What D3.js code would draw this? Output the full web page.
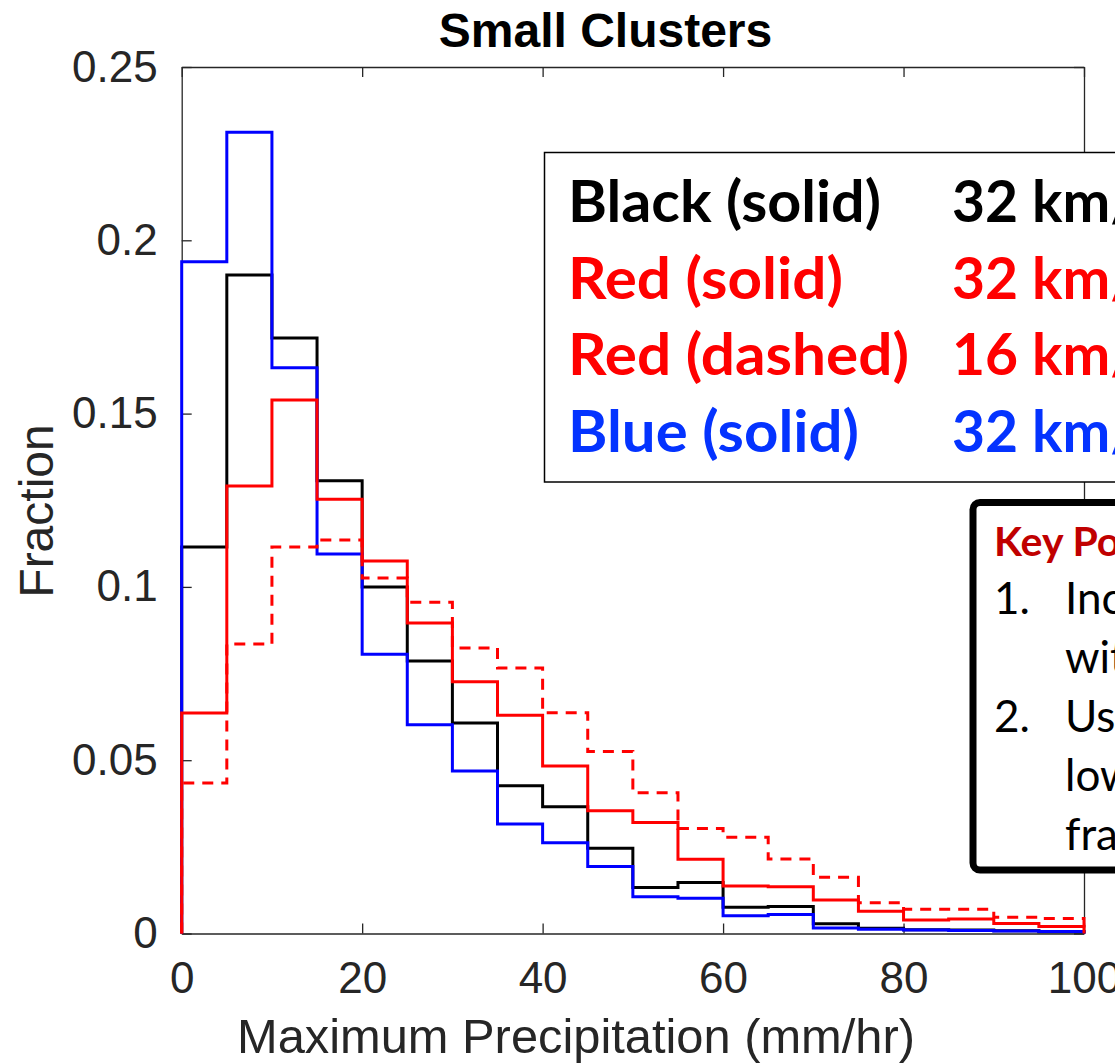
<!DOCTYPE html>
<html>
<head>
<meta charset="utf-8">
<script src="https://cdn.jsdelivr.net/npm/d3@7"></script>
<style>
  html, body { margin: 0; padding: 0; background: #fff; }
  svg { display: block; }
</style>
</head>
<body>
<svg id="chart" width="1115" height="1063"></svg>
<script>
// Histogram bins: 5 mm/hr wide, 0–100 mm/hr
const binEdges = [0, 5, 10, 15, 20, 25, 30, 35, 40, 45, 50, 55, 60, 65, 70, 75, 80, 85, 90, 95, 100];

// Fraction of small clusters in each bin
const blackSolid = [0.1115, 0.1900, 0.1718, 0.1306, 0.1000, 0.0786, 0.0607, 0.0426, 0.0366, 0.0246,
                    0.0133, 0.0147, 0.0076, 0.0078, 0.0028, 0.0015, 0.0011, 0.0010, 0.0008, 0.0005];
const blueSolid  = [0.1938, 0.2312, 0.1632, 0.1095, 0.0806, 0.0602, 0.0469, 0.0316, 0.0262, 0.0193,
                    0.0106, 0.0102, 0.0051, 0.0055, 0.0016, 0.0012, 0.0010, 0.0009, 0.0007, 0.0006];
const redSolid   = [0.0636, 0.1291, 0.1539, 0.1253, 0.1075, 0.0896, 0.0726, 0.0630, 0.0483, 0.0354,
                    0.0320, 0.0214, 0.0137, 0.0135, 0.0097, 0.0064, 0.0039, 0.0042, 0.0029, 0.0020];
const redDashed  = [0.0434, 0.0835, 0.1115, 0.1135, 0.1026, 0.0956, 0.0824, 0.0766, 0.0637, 0.0525,
                    0.0406, 0.0303, 0.0278, 0.0215, 0.0162, 0.0089, 0.0070, 0.0070, 0.0047, 0.0043];

// Axis ticks
const xTicks = [0, 20, 40, 60, 80, 100];
const xTickLabels = ["0", "20", "40", "60", "80", "100"];
const yTicks = [0, 0.05, 0.1, 0.15, 0.2, 0.25];
const yTickLabels = ["0", "0.05", "0.1", "0.15", "0.2", "0.25"];

// Legend text
const legendNames = ["Black (solid)", "Red (solid)", "Red (dashed)", "Blue (solid)"];
const legendRes   = ["32 km/", "32 km/", "16 km/", "32 km/"];
const legendColors = ["#000000", "#ff0000", "#ff0000", "#0433ff"];
const legendWidths = [313, 275, 341, 291];

// Key points text
const keyTitle = "Key Points";
const keyNumbers = ["1.", "", "2.", "", ""];
const keyLines = ["Increasing", "with", "Using", "lower", "fraction"];

const svg = d3.select("#chart");
const axisColor = "#262626";

const x = d3.scaleLinear().domain([0, 100]).range([181.7, 1084]);
const y = d3.scaleLinear().domain([0, 0.25]).range([933.5, 67]);

// Title
svg.append("text")
  .attr("x", 605.5).attr("y", 46.5)
  .attr("text-anchor", "middle")
  .style("font-family", "'Liberation Sans', Arial, sans-serif")
  .style("font-weight", "bold")
  .style("font-size", "48px")
  .attr("fill", "#000")
  .text("Small Clusters");

// Axes (box with inward ticks on all four sides)
const tickFont = g => g.selectAll("text")
  .style("font-family", "'Liberation Sans', Arial, sans-serif")
  .style("font-size", "44px")
  .attr("fill", axisColor);
const axisStyle = g => {
  g.select(".domain").attr("stroke", axisColor).attr("stroke-width", 1.3);
  g.selectAll(".tick line").attr("stroke", axisColor).attr("stroke-width", 1.3);
};

svg.append("g")
  .attr("transform", `translate(0,${y(0)})`)
  .call(d3.axisBottom(x).tickValues(xTicks).tickFormat((d, i) => xTickLabels[i])
        .tickSizeInner(-10).tickSizeOuter(0).tickPadding(28))
  .call(axisStyle).call(tickFont);

svg.append("g")
  .attr("transform", `translate(${x(0)},0)`)
  .call(d3.axisLeft(y).tickValues(yTicks).tickFormat((d, i) => yTickLabels[i])
        .tickSizeInner(-10).tickSizeOuter(0).tickPadding(24))
  .call(axisStyle).call(tickFont);

svg.append("g")
  .attr("transform", `translate(0,${y(0.25)})`)
  .call(d3.axisTop(x).tickValues(xTicks).tickFormat("").tickSizeInner(-10).tickSizeOuter(0))
  .call(axisStyle);

svg.append("g")
  .attr("transform", `translate(${x(100)},0)`)
  .call(d3.axisRight(y).tickValues(yTicks).tickFormat("").tickSizeInner(-10).tickSizeOuter(0))
  .call(axisStyle);

// Axis labels
svg.append("text")
  .attr("x", 576).attr("y", 1053)
  .attr("text-anchor", "middle")
  .attr("textLength", 678)
  .attr("lengthAdjust", "spacingAndGlyphs")
  .style("font-family", "'Liberation Sans', Arial, sans-serif")
  .style("font-size", "48px")
  .attr("fill", axisColor)
  .text("Maximum Precipitation (mm/hr)");

svg.append("text")
  .attr("transform", "translate(53,511) rotate(-90)")
  .attr("text-anchor", "middle")
  .style("font-family", "'Liberation Sans', Arial, sans-serif")
  .style("font-size", "48px")
  .attr("fill", axisColor)
  .text("Fraction");

// Stair outlines of each histogram
const stairs = d3.line()
  .x(d => x(d[0]))
  .y(d => y(d[1]))
  .curve(d3.curveStepAfter);

function stairPoints(values) {
  const pts = [[binEdges[0], 0]];
  values.forEach((v, i) => pts.push([binEdges[i], v]));
  pts.push([binEdges[binEdges.length - 1], 0]);
  return pts;
}

const series = [
  { values: blackSolid, color: "#000000", dash: null },
  { values: blueSolid,  color: "#0000ff", dash: null },
  { values: redDashed,  color: "#ff0000", dash: "11,8" },
  { values: redSolid,   color: "#ff0000", dash: null }
];

svg.append("g").selectAll("path")
  .data(series)
  .join("path")
  .attr("d", d => stairs(stairPoints(d.values)))
  .attr("fill", "none")
  .attr("stroke", d => d.color)
  .attr("stroke-width", 3)
  .attr("stroke-linejoin", "miter")
  .attr("stroke-dasharray", d => d.dash);

// Legend box
const legend = svg.append("g");
legend.append("rect")
  .attr("x", 544.5).attr("y", 152.5)
  .attr("width", 700).attr("height", 329.5)
  .attr("fill", "#fff")
  .attr("stroke", "#000")
  .attr("stroke-width", 1.5);

const rowY = [221.7, 298.5, 375.2, 452];
legendNames.forEach((name, i) => {
  legend.append("text")
    .attr("x", 568).attr("y", rowY[i])
    .attr("textLength", legendWidths[i])
    .attr("lengthAdjust", "spacingAndGlyphs")
    .style("font-family", "Lato, 'Open Sans', sans-serif")
    .style("font-weight", "bold")
    .style("font-size", "57px")
    .attr("fill", legendColors[i])
    .text(name);
  legend.append("text")
    .attr("x", 952).attr("y", rowY[i])
    .style("font-family", "Lato, 'Open Sans', sans-serif")
    .style("font-weight", "bold")
    .style("font-size", "57px")
    .attr("fill", legendColors[i])
    .text(legendRes[i]);
});

// Key points box
const keyBox = svg.append("g");
keyBox.append("rect")
  .attr("x", 973).attr("y", 502.5)
  .attr("width", 400).attr("height", 367.5)
  .attr("rx", 7).attr("ry", 7)
  .attr("fill", "#fff")
  .attr("stroke", "#000")
  .attr("stroke-width", 7);

keyBox.append("text")
  .attr("x", 994).attr("y", 555.5)
  .style("font-family", "Lato, 'Open Sans', sans-serif")
  .style("font-weight", "bold")
  .style("font-size", "41px")
  .attr("fill", "#c00000")
  .text(keyTitle);

const keyY = [614, 673, 732, 791, 850];
keyLines.forEach((t, i) => {
  if (keyNumbers[i]) {
    keyBox.append("text")
      .attr("x", 994).attr("y", keyY[i])
      .style("font-family", "Lato, 'Open Sans', sans-serif")
      .style("font-size", "44px")
      .attr("fill", "#000")
      .text(keyNumbers[i]);
  }
  keyBox.append("text")
    .attr("x", 1065).attr("y", keyY[i])
    .style("font-family", "Lato, 'Open Sans', sans-serif")
    .style("font-size", "44px")
    .attr("fill", "#000")
    .text(t);
});
</script>
</body>
</html>
